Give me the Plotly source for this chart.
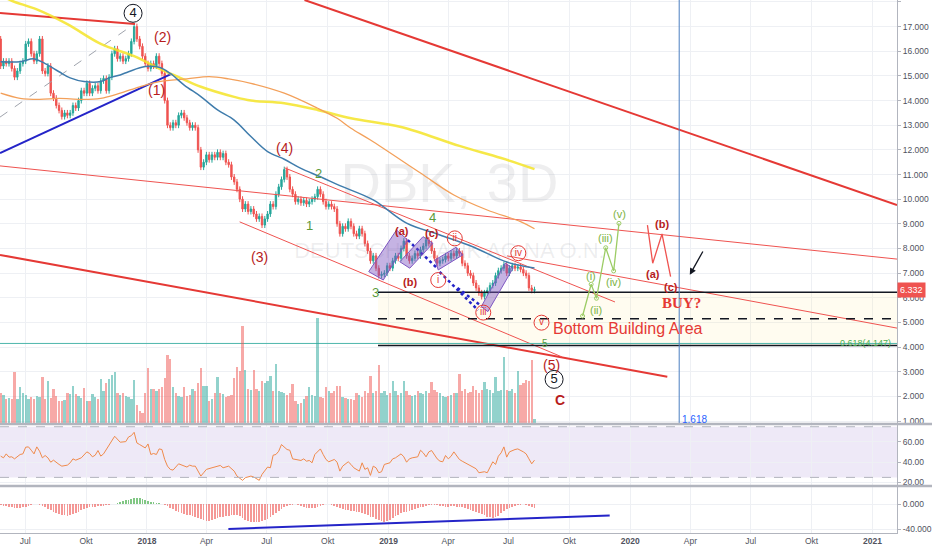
import pandas as pd
import plotly.graph_objects as go

# DBK (Xetra) 3-day candles
bar_start = '2017-05-25'
bar_step = '6048min'   # about 3 trading days per bar
first_open = 16.5

closes = [
    15.4, 15.6, 15.5, 15.6, 15.3, 14.95, 15.2, 15.5, 15.6, 16.3,
    16.4, 15.9, 15.6, 15.9, 16.5, 15.2, 15.1, 15.4, 14.3, 14.1,
    13.8, 13.6, 13.35, 13.5, 13.4, 13.5, 13.8, 13.7, 14.0, 14.4,
    14.3, 14.7, 14.3, 14.5, 14.6, 14.4, 14.8, 14.9, 14.4, 14.95,
    15.9, 16.1, 15.7, 15.8, 15.6, 15.7, 15.9, 16.4, 17.0, 16.5,
    16.2, 15.8, 15.5, 15.3, 15.5, 15.4, 15.8, 15.5, 15.1, 14.0,
    13.0, 12.9, 13.1, 13.0, 13.4, 13.5, 13.3, 13.1, 12.9, 13.0,
    12.9, 12.0, 11.3, 11.5, 11.8, 11.6, 11.8, 11.7, 11.9, 11.7,
    11.85, 11.5, 11.4, 10.9, 10.7, 10.4, 10.0, 9.6, 9.8, 9.5,
    9.6, 9.4, 9.2, 9.3, 8.95, 9.2, 9.4, 9.8, 9.7, 10.2,
    10.5, 10.8, 11.2, 10.9, 10.4, 10.2, 9.9, 10.0, 9.85, 9.95,
    9.8, 9.9, 10.0, 10.1, 10.4, 10.2, 9.9, 9.7, 9.8, 9.7,
    9.6, 9.0, 8.6, 8.9, 8.8, 9.1, 8.9, 8.6, 8.5, 8.8,
    8.6, 8.2, 7.9, 7.5, 7.7, 7.2, 6.9, 6.95, 7.0, 7.3,
    7.2, 7.5, 7.7, 7.6, 8.0, 8.3, 7.7, 7.5, 7.6, 7.8,
    7.7, 7.95, 8.1, 8.35, 8.2, 7.9, 7.6, 7.4, 7.5, 7.55,
    7.7, 7.6, 7.8, 7.7, 7.9, 7.8, 7.4, 7.3, 7.0, 6.9,
    6.6, 6.4, 6.2, 6.05, 6.2, 6.3, 6.5, 6.6, 6.9, 7.1,
    7.2, 7.35, 7.0, 7.2, 7.3, 7.2, 7.25, 7.15, 7.0, 6.9,
    6.4, 6.3, 6.33,
]

# volume in relative units
volumes = [
    30, 28, 24, 25, 24, 51, 24, 36, 30, 28,
    24, 26, 24, 27, 26, 46, 24, 42, 25, 34,
    27, 22, 22, 23, 30, 29, 37, 29, 27, 25,
    35, 22, 22, 29, 26, 24, 44, 32, 40, 44,
    48, 51, 30, 28, 30, 27, 26, 24, 43, 18,
    12, 10, 30, 55, 34, 34, 32, 34, 36, 45,
    68, 64, 36, 30, 27, 26, 36, 27, 28, 34,
    32, 40, 55, 37, 37, 22, 24, 30, 46, 30,
    29, 26, 27, 28, 45, 56, 52, 97, 53, 34,
    33, 53, 34, 32, 42, 40, 42, 47, 32, 59,
    32, 31, 30, 28, 30, 39, 22, 19, 20, 24,
    27, 36, 28, 27, 105, 26, 25, 36, 32, 30,
    32, 37, 37, 26, 25, 24, 24, 23, 30, 28,
    26, 32, 30, 47, 30, 32, 58, 30, 32, 28,
    30, 42, 32, 28, 30, 42, 32, 28, 27, 28,
    32, 30, 29, 32, 30, 41, 33, 31, 30, 27,
    26, 27, 28, 30, 30, 49, 32, 34, 30, 31,
    37, 33, 30, 33, 41, 34, 33, 30, 46, 32,
    33, 66, 33, 32, 34, 30, 52, 38, 40, 43,
    42, 63, 4,
]

macd_hist = [
    -1.5, -2.5, -3.5, -4.5, -5.5, -6.5, -7, -6.5, -5.5, -4,
    -2.5, -1, -0.5, -0.5, -1, -3, -5.5, -8, -10, -12,
    -14, -15.5, -17, -18, -18.5, -18, -16.5, -14.5, -12, -9.5,
    -7.5, -6, -5, -4.5, -4, -3.5, -3, -2.5, -2, -1,
    -0.5, 0.5, 2, 3.5, 5, 6, 7, 8, 9.5, 10,
    9.5, 8.5, 7, 5.5, 4, 3, 2, 1, 0.5, -1,
    -3.5, -6, -8.5, -10.5, -12.5, -14, -15.5, -17, -18, -19.5,
    -20.5, -22, -24, -25.5, -26.5, -27, -26, -24.5, -23, -21.5,
    -20.5, -19.5, -18.5, -17.5, -17, -17.5, -19, -22, -25, -27.5,
    -28.5, -29, -28.5, -28, -27, -25.5, -23.5, -21, -18, -14,
    -11, -8, -5.5, -3.5, -2, -1, -0.5, -1.5, -3.5, -5,
    -6.5, -7, -7, -6, -4.5, -2.5, -1, -0.5, -0.5, -1,
    -2.5, -4.5, -6.5, -8, -9, -9.5, -10.5, -11.5, -12.5, -13.5,
    -14.5, -16, -18, -20, -21.5, -23.5, -25.5, -27, -28, -27,
    -25, -22, -19.5, -17, -15, -13.5, -12.5, -11, -9.5, -8,
    -6.5, -5.5, -4.5, -3.5, -2, -1, -1, -1.5, -2.5, -3.5,
    -4, -4, -3.5, -3.5, -4, -4.5, -5, -6, -7.5, -9,
    -10.5, -12, -14, -16, -18, -20, -21.5, -22, -21, -18.5,
    -15, -11, -8, -6, -4.5, -3, -2, -1, 0.5, -1,
    -3, -5, -6.5,
]

# RSI, sampled at bar numbers
rsi_bars = [
    0, 1, 2, 3, 4, 5, 7, 8, 9, 10, 11, 12, 13, 14, 15, 16, 17, 18, 19, 20,
    21, 22, 24, 25, 26, 27, 29, 31, 32, 33, 34, 35, 36, 37, 39, 41, 43, 45, 46, 47,
    48, 49, 50, 52, 53, 54, 55, 56, 57, 58, 59, 60, 61, 62, 64, 65, 67, 68, 69, 70,
    72, 73, 74, 76, 77, 79, 80, 82, 84, 85, 87, 88, 90, 91, 93, 94, 96, 97, 98, 99,
    100, 101, 103, 104, 105, 106, 108, 109, 110, 111, 112, 113, 115, 116, 117, 118, 120, 121, 122, 123,
    125, 126, 127, 129, 130, 131, 132, 133, 134, 135, 136, 137, 138, 140, 141, 142, 144, 145, 146, 147,
    148, 150, 151, 152, 153, 154, 155, 157, 158, 159, 160, 161, 162, 163, 164, 165, 166, 167, 169, 171,
    172, 174, 175, 177, 178, 179, 180, 181, 182, 183, 185, 186, 188, 189, 190, 191, 192,
]
rsi_vals = [
    46, 44.3, 48.2, 45, 45.3, 43.3, 47.6, 48.2, 54.8, 55.1, 51.8, 48.2, 55.1, 50.8, 44.3, 46.6, 44.3, 40, 42, 39.4,
    37.8, 36.1, 37.1, 39.4, 43.3, 42, 44.3, 50.2, 48.6, 45.3, 46.9, 51.5, 46, 48.2, 57.4, 65.6, 59.7, 60.3, 64.9, 66.2,
    69.5, 59, 57.4, 54.1, 58, 47.6, 48.6, 47.6, 53.1, 52.5, 42.7, 36.1, 32.9, 32.2, 38.4, 37.1, 35.2, 37.1, 36.1, 36.1,
    26.3, 29.6, 32.9, 34.5, 35.2, 36.8, 34.5, 36.1, 31.2, 26.3, 22.1, 24.7, 26.3, 25.4, 22.1, 28, 35.2, 34.5, 46.9, 47.6,
    50.8, 57.4, 52.5, 51.8, 43.3, 42.7, 41.7, 43.3, 41, 41.7, 39.4, 47.6, 53.1, 47.6, 42.7, 40.4, 42.7, 40, 31.2, 36.1,
    40.4, 37.8, 34.5, 31.2, 39.4, 32.9, 34.5, 27, 36.1, 34.5, 29.6, 30.6, 37.8, 39.4, 43.3, 44.3, 48.2, 45.3, 40, 43.3,
    44.3, 45.3, 51.8, 49.2, 45.3, 50.2, 51.5, 43.3, 41, 40.4, 46.6, 43.3, 45.9, 50.2, 46.9, 42.7, 41, 39.4, 36.8, 33.5,
    29.6, 30.6, 29.6, 40.4, 37.8, 45.9, 49.2, 55.1, 45, 50.2, 52.5, 53.1, 50.2, 48.2, 43.3, 38.4, 42,
]

# moving averages, sampled at bar numbers
ma_blue_bars = [0, 7, 12, 16, 21, 25, 30, 36, 39, 43, 46, 52, 57, 61, 66, 72, 78, 84, 90, 96,
                102, 108, 115, 122, 134, 146, 158, 170, 182, 192]
ma_blue_vals = [15.58, 15.58, 15.69, 15.5, 15.17, 14.92, 14.77, 14.77, 14.92, 15.04, 15.17, 15.38,
                15.35, 15.1, 14.63, 14.16, 13.62, 13.21, 12.54, 11.93, 11.62, 11.25, 10.91, 10.55,
                9.97, 9.03, 8.55, 8.06, 7.45, 7.21]
ma_orange_bars = [0, 7, 14, 21, 29, 36, 43, 50, 57, 67, 75, 82, 90, 102, 114, 121, 126, 133,
                  151, 163, 175, 187, 192]
ma_orange_vals = [14.3, 14.09, 14.05, 14.09, 14.05, 14.09, 14.3, 14.56, 14.77, 14.88, 14.97, 14.88,
                  14.7, 14.3, 13.69, 13.28, 12.88, 12.4, 11.06, 10.17, 9.56, 9.09, 8.8]
ma_yellow_bars = [0, 4, 13, 24, 36, 48, 57, 64, 72, 84, 90, 102, 114, 126, 144, 165, 180, 192]
ma_yellow_vals = [18.28, 18.05, 17.7, 17.1, 16.3, 15.8, 15.3, 14.95, 14.56, 14.15, 14.0, 13.89,
                  13.62, 13.28, 12.93, 12.16, 11.67, 11.22]

month_ticks = ['2017-07-01', '2017-10-01', '2018-01-01', '2018-04-01', '2018-07-01', '2018-10-01',
               '2019-01-01', '2019-04-01', '2019-07-01', '2019-10-01', '2020-01-01', '2020-04-01',
               '2020-07-01', '2020-10-01', '2021-01-01']
month_labels = ['Jul', 'Okt', '<b>2018</b>', 'Apr', 'Jul', 'Okt', '<b>2019</b>', 'Apr', 'Jul', 'Okt',
                '<b>2020</b>', 'Apr', 'Jul', 'Okt', '<b>2021</b>']

last_price = 6.332
fib_level = 4.147

# drawings on the price pane: (start date, price, end date, price, colour, width, dash)
trend_lines = [
    ('2017-05-24', 17.55, '2017-12-14', 17.11, '#e53935', 2, 'solid'),
    ('2017-05-24', 13.33, '2017-12-11', 17.07, '#a0a4ad', 1, 'dash'),
    ('2017-05-24', 11.87, '2018-02-07', 15.08, '#2424c8', 2, 'solid'),
    ('2018-08-27', 18.08, '2021-02-07', 9.76, '#e53935', 2, 'solid'),
    ('2017-05-24', 7.74, '2020-02-26', 2.80, '#e53935', 2, 'solid'),
    ('2017-05-24', 11.35, '2021-02-07', 7.57, '#ef5350', 1, 'solid'),
    ('2018-07-28', 11.27, '2019-12-09', 5.83, '#ef5350', 1, 'solid'),
    ('2019-06-29', 7.70, '2021-02-07', 4.77, '#ef5350', 1, 'solid'),
    ('2018-05-21', 9.08, '2019-09-20', 3.60, '#ef5350', 1, 'solid'),
    ('2018-12-16', 6.22, '2021-02-07', 6.22, '#131722', 1.5, 'solid'),
    ('2018-12-16', 5.15, '2021-02-07', 5.15, '#131722', 1.5, 'dash'),
    ('2018-12-16', 4.06, '2021-02-07', 4.06, '#131722', 1.5, 'solid'),
    ('2017-05-24', fib_level, '2021-02-07', fib_level, '#4db6ac', 1, 'solid'),
    ('2019-01-30', 8.34, '2019-03-15', 7.21, '#2424c8', 2.5, 'dot'),
    ('2019-03-19', 7.05, '2019-05-16', 5.50, '#2424c8', 2.5, 'dot'),
    ('2019-04-15', 6.40, '2019-05-19', 5.71, '#2424c8', 2.5, 'dot'),
]

# tilted channel boxes: corner dates and prices
boxes = [
    (['2018-12-02', '2019-01-13', '2019-01-30', '2018-12-24'], [7.06, 8.75, 8.34, 6.72]),
    (['2019-01-18', '2019-02-22', '2019-03-09', '2019-02-02'], [7.46, 8.48, 8.21, 7.20]),
    (['2019-03-12', '2019-04-13', '2019-04-23', '2019-03-17'], [7.53, 8.05, 7.74, 7.13]),
    (['2019-05-21', '2019-06-26', '2019-07-08', '2019-05-31'], [5.64, 7.40, 7.20, 5.44]),
]

green_path_dates = ['2019-10-21', '2019-11-03', '2019-11-11', '2019-11-25', '2019-12-07', '2019-12-15']
green_path_prices = [5.26, 6.55, 5.98, 8.03, 7.09, 9.02]
red_path_dates = ['2020-01-27', '2020-02-04', '2020-02-18', '2020-03-02']
red_path_prices = [8.95, 7.40, 8.59, 6.86]

# (text, date, price, colour, size, bold)
wave_labels = [
    ('(2)', '2018-01-25', 16.59, '#b71c1c', 14, False),
    ('(1)', '2018-01-16', 14.43, '#b71c1c', 14, False),
    ('(4)', '2018-07-28', 12.06, '#b71c1c', 14, False),
    ('(3)', '2018-06-20', 7.67, '#b71c1c', 14, False),
    ('(5)', '2019-09-04', 3.27, '#b71c1c', 14, False),
    ('C', '2019-09-17', 1.85, '#b71c1c', 14, True),
    ('(a)', '2019-01-21', 8.72, '#b71c1c', 11, True),
    ('(b)', '2019-02-02', 6.65, '#b71c1c', 11, True),
    ('(c)', '2019-03-08', 8.64, '#b71c1c', 11, True),
    ('(a)', '2020-02-04', 6.97, '#b71c1c', 11, True),
    ('(b)', '2020-02-18', 8.98, '#b71c1c', 11, True),
    ('(c)', '2020-03-02', 6.45, '#b71c1c', 11, True),
    ('2', '2018-09-17', 11.05, '#5b9a3a', 13, False),
    ('1', '2018-09-04', 8.95, '#5b9a3a', 13, False),
    ('4', '2019-03-08', 9.27, '#5b9a3a', 13, False),
    ('3', '2018-12-12', 6.22, '#5b9a3a', 13, False),
    ('5', '2019-08-25', 4.15, '#5b9a3a', 10, False),
    ('(i)', '2019-11-03', 6.88, '#7cb342', 11, False),
    ('(ii)', '2019-11-11', 5.50, '#7cb342', 11, False),
    ('(iii)', '2019-11-25', 8.41, '#7cb342', 11, False),
    ('(iv)', '2019-12-07', 6.65, '#7cb342', 11, False),
    ('(v)', '2019-12-16', 9.39, '#7cb342', 11, False),
]
circled_black = [('4', '2017-12-11', 17.54), ('5', '2019-09-08', 2.69)]
circled_red = [('i', '2019-03-17', 6.72), ('ii', '2019-04-11', 8.41), ('iii', '2019-05-24', 5.40),
               ('iv', '2019-07-16', 7.81), ('v', '2019-08-20', 4.99)]

DAY_MS = 86400000
FONT = 'Liberation Sans'

dates = pd.date_range(bar_start, periods=len(closes), freq=bar_step)
opens = [first_open] + closes[:-1]
highs = [max(o, c) + 0.12 for o, c in zip(opens, closes)]
lows = [min(o, c) - 0.12 for o, c in zip(opens, closes)]
vol_colors = ['rgba(38,166,154,0.5)' if c >= o else 'rgba(239,83,80,0.5)' for o, c in zip(opens, closes)]

fig = go.Figure()

# watermark
fig.add_trace(go.Scatter(x=['2019-04-03', '2019-04-03'], y=[10.45, 7.82], mode='text',
                         text=['DBK, 3D', 'DEUTSCHE BANK AG NA O.N.'],
                         textfont=dict(family=FONT, size=[56, 22], color='rgba(120,123,134,0.13)'),
                         hoverinfo='skip'))

for x0, y0, x1, y1, col, w, dash in trend_lines:
    fig.add_trace(go.Scatter(x=[x0, x1], y=[y0, y1], mode='lines',
                             line=dict(color=col, width=w, dash=dash), hoverinfo='skip'))

for bars, vals, col, w in [(ma_yellow_bars, ma_yellow_vals, 'rgba(245,228,40,0.85)', 2.5),
                           (ma_orange_bars, ma_orange_vals, '#f3a05a', 1.3),
                           (ma_blue_bars, ma_blue_vals, '#3f7cac', 1.5)]:
    fig.add_trace(go.Scatter(x=dates[bars], y=vals, mode='lines',
                             line=dict(color=col, width=w, shape='spline'), hoverinfo='skip'))

fig.add_trace(go.Candlestick(
    x=dates, open=opens, high=highs, low=lows, close=closes,
    increasing=dict(line=dict(color='#26a69a', width=1), fillcolor='#26a69a'),
    decreasing=dict(line=dict(color='#ef5350', width=1), fillcolor='#ef5350'),
    whiskerwidth=0, hoverinfo='skip'))

for bx, by in boxes:
    fig.add_trace(go.Scatter(x=bx + bx[:1], y=by + by[:1], mode='lines', fill='toself',
                             fillcolor='rgba(126,87,194,0.45)', line=dict(color='#7e57c2', width=1),
                             hoverinfo='skip'))

fig.add_trace(go.Scatter(x=green_path_dates, y=green_path_prices, mode='lines+markers',
                         line=dict(color='#9ccc65', width=1.3),
                         marker=dict(symbol='circle-open', size=4, color='#9ccc65'), hoverinfo='skip'))
fig.add_trace(go.Scatter(x=red_path_dates, y=red_path_prices, mode='lines',
                         line=dict(color='#ef5350', width=1.3), hoverinfo='skip'))

fig.add_trace(go.Scatter(x=[c[1] for c in circled_black], y=[c[2] for c in circled_black],
                         mode='markers+text', text=[c[0] for c in circled_black],
                         textposition='middle center', textfont=dict(family=FONT, size=13, color='#131722'),
                         marker=dict(symbol='circle-open', size=18, color='#131722', line=dict(width=1)),
                         hoverinfo='skip'))
fig.add_trace(go.Scatter(x=[c[1] for c in circled_red], y=[c[2] for c in circled_red],
                         mode='markers+text', text=[c[0] for c in circled_red],
                         textposition='middle center', textfont=dict(family=FONT, size=10, color='#e53935'),
                         marker=dict(symbol='circle-open', size=15, color='#e53935', line=dict(width=1)),
                         hoverinfo='skip'))

# volume on an overlaid hidden axis
fig.add_trace(go.Bar(x=dates, y=volumes, marker=dict(color=vol_colors, line=dict(width=0)),
                     width=3.5 * DAY_MS, yaxis='y2', hoverinfo='skip'))

# RSI pane
fig.add_trace(go.Scatter(x=dates[rsi_bars], y=rsi_vals, mode='lines', yaxis='y3',
                         line=dict(color='#f08a4b', width=1), hoverinfo='skip'))

# MACD histogram pane
macd_colors = ['rgba(76,175,80,0.7)' if v >= 0 else 'rgba(239,83,80,0.6)' for v in macd_hist]
fig.add_trace(go.Bar(x=dates, y=macd_hist, marker=dict(color=macd_colors, line=dict(width=0)),
                     width=2.6 * DAY_MS, yaxis='y4', hoverinfo='skip'))
fig.add_trace(go.Scatter(x=['2018-05-04', '2019-12-01'], y=[-40, -18.4], mode='lines', yaxis='y4',
                         line=dict(color='#2424c8', width=2), hoverinfo='skip'))

annotations = []
for text, x, y, col, size, bold in wave_labels:
    annotations.append(dict(x=x, y=y, xref='x', yref='y', showarrow=False,
                            text=f'<b>{text}</b>' if bold else text,
                            font=dict(family=FONT, size=size, color=col)))
annotations += [
    dict(x='2020-03-19', y=5.78, xref='x', yref='y', showarrow=False, text='<b>BUY?</b>',
         font=dict(family='Liberation Serif', size=15, color='#e53935')),
    dict(x='2019-09-04', y=4.77, xref='x', yref='y', showarrow=False, xanchor='left',
         text='Bottom Building Area', font=dict(family=FONT, size=16, color='#e53935')),
    dict(x='2020-03-31', y=6.93, xref='x', yref='y', ax='2020-04-21', ay=7.94, axref='x', ayref='y',
         showarrow=True, arrowhead=2, arrowsize=1, arrowwidth=1.3, arrowcolor='#131722', text=''),
    dict(x='2020-03-16', y=1.05, xref='x', yref='y', showarrow=False, xanchor='left',
         text='1.618', font=dict(family=FONT, size=10, color='#2962ff')),
    dict(x=0.995, y=fib_level, xref='x domain', yref='y', showarrow=False, xanchor='right',
         text='0.618(4.147)', font=dict(family=FONT, size=9, color='#4caf50')),
    dict(x=897 / 932, y=last_price, xref='paper', yref='y', showarrow=False, xanchor='left',
         text=f'{last_price:.3f}', bgcolor='#ef5350', borderpad=2,
         font=dict(family=FONT, size=9, color='white')),
]

shapes = [
    dict(type='rect', xref='x', yref='y', x0='2018-12-16', x1='2021-02-07', y0=4.06, y1=6.22,
         fillcolor='rgba(255,238,160,0.16)', line=dict(width=0), layer='between'),
    dict(type='line', xref='x', yref='y', x0='2020-03-15', x1='2020-03-15', y0=0.92, y1=18.08,
         line=dict(color='#4a7fc1', width=1)),
    dict(type='rect', xref='x domain', yref='y3', x0=0, x1=1, y0=25, y1=75,
         fillcolor='rgba(126,87,194,0.13)', line=dict(width=0), layer='below'),
    dict(type='line', xref='x domain', yref='y3', x0=0, x1=1, y0=75, y1=75,
         line=dict(color='#b2b5be', width=1, dash='dash')),
    dict(type='line', xref='x domain', yref='y3', x0=0, x1=1, y0=25, y1=25,
         line=dict(color='#b2b5be', width=1, dash='dash')),
    dict(type='line', xref='paper', yref='paper', x0=0, x1=1, y0=1 - 424 / 533, y1=1 - 424 / 533,
         line=dict(color='#b2b5be', width=2.5)),
    dict(type='line', xref='paper', yref='paper', x0=0, x1=1, y0=1 - 486 / 533, y1=1 - 486 / 533,
         line=dict(color='#b2b5be', width=2.5)),
]

axis_font = dict(family=FONT, size=8.5, color='#50535e')
grid = '#eef0f4'
side_axis = dict(side='right', anchor='x', showgrid=True, gridcolor=grid, showline=True,
                 linecolor='#b2b5be', ticks='outside', ticklen=3, tickcolor='#b2b5be',
                 tickfont=axis_font, zeroline=False)
fig.update_layout(
    width=932, height=550,
    margin=dict(l=0, r=0, t=0, b=17),
    paper_bgcolor='white', plot_bgcolor='white',
    showlegend=False, bargap=0, boxgap=0.3,
    annotations=annotations, shapes=shapes,
    xaxis=dict(domain=[0, 897 / 932], anchor='y4', range=['2017-05-24', '2021-02-07'],
               tickvals=month_ticks, ticktext=month_labels, showgrid=True, gridcolor=grid,
               showline=True, linecolor='#b2b5be', ticks='', tickfont=axis_font,
               rangeslider=dict(visible=False), zeroline=False),
    yaxis=dict(domain=[1 - 423 / 533, 1], range=[0.92, 18.08], tickvals=list(range(1, 19)),
               tickformat='.3f', **side_axis),
    yaxis2=dict(overlaying='y', range=[0, 423], visible=False, anchor='x'),
    yaxis3=dict(domain=[1 - 485 / 533, 1 - 425 / 533], range=[17.5, 76.7],
                tickvals=[20, 40, 60], ticktext=['20.00', '40.00', '60.00'], **side_axis),
    yaxis4=dict(domain=[0, 1 - 487 / 533], range=[-46.4, 27.2],
                tickvals=[-40, 0], ticktext=['-40.000', '0.000'], **side_axis),
)

fig.write_html('out.html', config={'displayModeBar': False},
               post_script="document.body.style.margin = '0';")
